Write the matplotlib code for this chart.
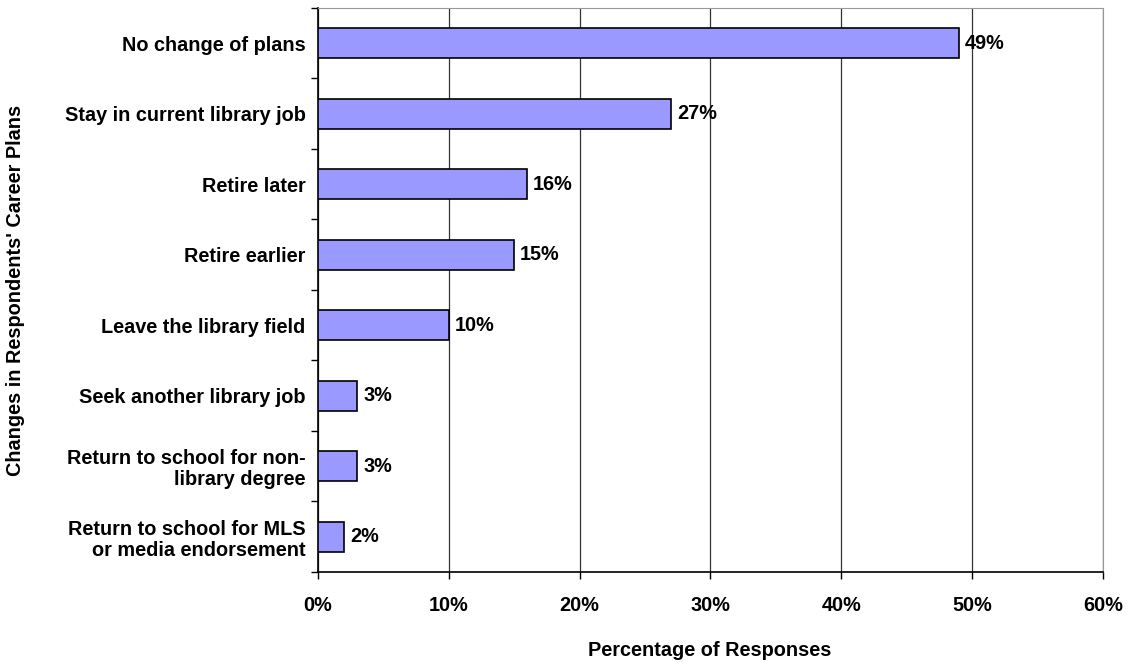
import numpy as np
import matplotlib.pyplot as plt

plt.rcParams['font.family'] = ['Liberation Sans', 'DejaVu Sans']

categories = ["No change of plans", "Stay in current library job", "Retire later",
              "Retire earlier", "Leave the library field", "Seek another library job",
              "Return to school for non-\nlibrary degree",
              "Return to school for MLS\nor media endorsement"]
values = [49, 27, 16, 15, 10, 3, 3, 2]
xticks = [0, 10, 20, 30, 40, 50, 60]

FS = 14.3

fig = plt.figure(figsize=(11.3, 6.62), dpi=100)
ax = fig.add_axes([0.2814, 0.136, 0.6947, 0.852])

y = np.arange(len(categories))
ax.barh(y, values, height=0.42, color='#9999FF', edgecolor='black', linewidth=1.2, zorder=3)
for yi, v in zip(y, values):
    ax.text(v + 0.45, yi, f"{v}%", va='center', ha='left', fontsize=FS, fontweight='bold', zorder=4)

ax.set_xlim(0, 60)
ax.set_ylim(len(categories) - 0.5, -0.5)
ax.set_xticks(xticks)
ax.set_xticklabels([f"{t}%" for t in xticks], fontsize=FS, fontweight='bold')
ax.xaxis.grid(True, color='#333333', linewidth=0.9, zorder=0)

# category labels between boundary ticks
ax.set_yticks(np.arange(-0.5, len(categories), 1))
ax.set_yticklabels([])
ax.set_yticks(y, minor=True)
ax.set_yticklabels(categories, minor=True, fontsize=FS, fontweight='bold', ha='right',
                   linespacing=1.15)
ax.tick_params(axis='y', which='minor', length=0, pad=9)
ax.tick_params(axis='y', which='major', length=5, width=1)
ax.tick_params(axis='x', length=5, width=1, pad=12)

for s in ['top', 'right']:
    ax.spines[s].set_color('#999999')
for s in ['left', 'bottom']:
    ax.spines[s].set_color('black')
    ax.spines[s].set_linewidth(1.2)

fig.text(710 / 1130, 1 - 650 / 662, "Percentage of Responses", fontsize=FS, fontweight='bold',
         ha='center', va='center')
fig.text(16 / 1130, 1 - 290 / 662, "Changes in Respondents' Career Plans", fontsize=FS,
         fontweight='bold', ha='center', va='center', rotation=90)

fig.savefig("out.png", dpi=100)
